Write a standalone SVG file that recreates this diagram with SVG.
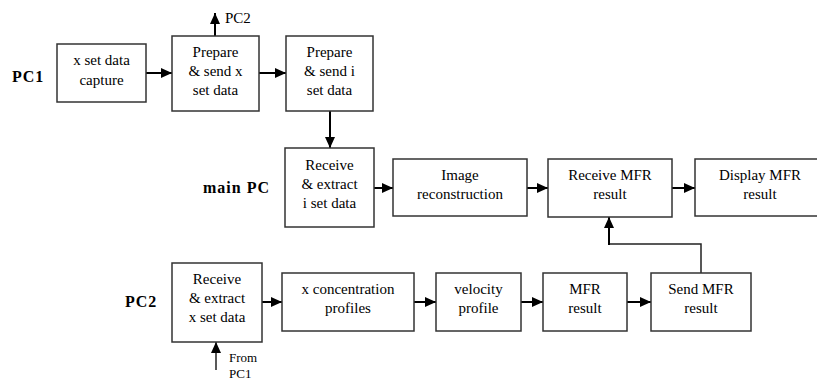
<svg xmlns="http://www.w3.org/2000/svg" width="817" height="382" viewBox="0 0 817 382">
<style>
.box{fill:#fff;stroke:#333;stroke-width:1.5}
.t{font-family:"Liberation Serif","Times New Roman",serif;font-size:15px;fill:#000;text-anchor:middle}
.l{font-family:"Liberation Serif","Times New Roman",serif;font-size:15px;fill:#000}
.s{font-family:"Liberation Serif","Times New Roman",serif;font-size:13px;fill:#000}
.lab{font-family:"Liberation Serif","Times New Roman",serif;font-size:16px;font-weight:bold;fill:#000;letter-spacing:1px}
.c{fill:none;stroke:#000;stroke-width:2}
.f{fill:none;stroke:#222;stroke-width:1.5}
</style>
<defs>
<marker id="ah" markerUnits="userSpaceOnUse" markerWidth="12" markerHeight="12" viewBox="0 0 12 12" refX="11" refY="6" orient="auto">
<path d="M0,1 L11,6 L0,11 Z" fill="#000"/>
</marker>
</defs>
<rect width="817" height="382" fill="#fff"/>
<text class="lab" x="12" y="82">PC1</text>
<text class="lab" x="203" y="193">main PC</text>
<text class="lab" x="125" y="307">PC2</text>
<g id="connectors">
<line class="c" x1="146" y1="73" x2="172" y2="73" marker-end="url(#ah)"/>
<line class="c" x1="259" y1="73" x2="286" y2="73" marker-end="url(#ah)"/>
<line class="c" x1="215" y1="36" x2="215" y2="13" marker-end="url(#ah)"/>
<line class="c" x1="330" y1="111" x2="330" y2="148" marker-end="url(#ah)"/>
<line class="c" x1="374" y1="188" x2="393" y2="188" marker-end="url(#ah)"/>
<line class="c" x1="527" y1="188" x2="548" y2="188" marker-end="url(#ah)"/>
<line class="c" x1="672" y1="188" x2="695" y2="188" marker-end="url(#ah)"/>
<line class="c" x1="262" y1="302" x2="282" y2="302" marker-end="url(#ah)"/>
<line class="c" x1="414" y1="302" x2="436" y2="302" marker-end="url(#ah)"/>
<line class="c" x1="521" y1="302" x2="543" y2="302" marker-end="url(#ah)"/>
<line class="c" x1="627" y1="302" x2="651" y2="302" marker-end="url(#ah)"/>
<polyline class="f" points="701,273 701,244 609,244"/>
<line class="c" x1="609" y1="245" x2="609" y2="217" marker-end="url(#ah)"/>
<line class="f" x1="216" y1="370" x2="216" y2="342" marker-end="url(#ah)"/>
<text class="s" x="229" y="362">From</text>
<text class="s" x="229" y="378">PC1</text>
<text class="l" x="225" y="23">PC2</text>
</g>
<g id="xcapture"><rect class="box" x="57" y="44" width="89" height="58"/><text class="t" x="101.5" y="65">x set data</text><text class="t" x="101.5" y="85">capture</text></g>
<g id="sendx"><rect class="box" x="172" y="36" width="87" height="75"/><text class="t" x="215.5" y="57">Prepare</text><text class="t" x="215.5" y="76">&amp; send x</text><text class="t" x="215.5" y="95">set data</text></g>
<g id="sendi"><rect class="box" x="286" y="36" width="87" height="75"/><text class="t" x="329.5" y="57">Prepare</text><text class="t" x="329.5" y="76">&amp; send i</text><text class="t" x="329.5" y="95">set data</text></g>
<g id="recvi"><rect class="box" x="285" y="148" width="89" height="79"/><text class="t" x="329.5" y="170">Receive</text><text class="t" x="329.5" y="189">&amp; extract</text><text class="t" x="329.5" y="208">i set data</text></g>
<g id="imgrec"><rect class="box" x="393" y="159" width="134" height="57"/><text class="t" x="460" y="180">Image</text><text class="t" x="460" y="199">reconstruction</text></g>
<g id="recvmfr"><rect class="box" x="548" y="159" width="124" height="58"/><text class="t" x="610" y="180">Receive MFR</text><text class="t" x="610" y="199">result</text></g>
<g id="dispmfr"><rect class="box" x="695" y="159" width="131" height="57"/><text class="t" x="760" y="180">Display MFR</text><text class="t" x="760" y="199">result</text></g>
<g id="recvx"><rect class="box" x="172" y="263" width="90" height="79"/><text class="t" x="217" y="284">Receive</text><text class="t" x="217" y="303">&amp; extract</text><text class="t" x="217" y="322">x set data</text></g>
<g id="xconc"><rect class="box" x="282" y="273" width="132" height="58"/><text class="t" x="348" y="294">x concentration</text><text class="t" x="348" y="313">profiles</text></g>
<g id="velocity"><rect class="box" x="436" y="273" width="85" height="58"/><text class="t" x="478.5" y="294">velocity</text><text class="t" x="478.5" y="313">profile</text></g>
<g id="mfr"><rect class="box" x="543" y="273" width="84" height="58"/><text class="t" x="585" y="294">MFR</text><text class="t" x="585" y="313">result</text></g>
<g id="sendmfr"><rect class="box" x="651" y="273" width="100" height="58"/><text class="t" x="701" y="294">Send MFR</text><text class="t" x="701" y="313">result</text></g>
</svg>
